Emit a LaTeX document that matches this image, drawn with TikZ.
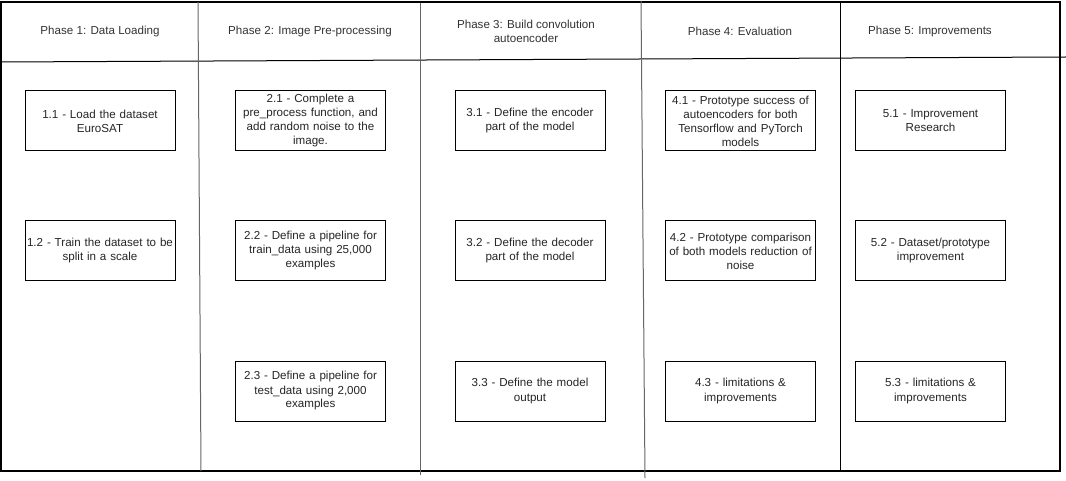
\documentclass[tikz,border=0pt]{standalone}
\usepackage{fontspec}
\setmainfont{Liberation Sans}
\begin{document}
\begin{tikzpicture}[x=1pt,y=-1pt,
  stepbox/.style={draw=black, line width=1pt, minimum width=150pt, minimum height=60pt,
     text width=148pt, align=center, inner sep=0pt, font=\fontsize{11.6}{14}\selectfont, text=black!85},
  phasehead/.style={align=center, font=\fontsize{11.6}{14}\selectfont, text=black!80},
  divider/.style={draw=black!60, line width=1pt},
  frame/.style={draw=black, line width=1.4pt}]
\useasboundingbox (0,0) rectangle (1066,481);
\fill[white] (0,0) rectangle (1066,481);
% frame
\draw[frame] (1,2) rectangle (1060,471);
% header line
\draw[draw=black, line width=1pt] (1,62) -- (1066,57);
% dividers
\draw[divider] (198,2) -- (201,471);
\draw[divider] (420,3) -- (420,475);
\draw[divider] (641,1) -- (645,478);
\draw[draw=black, line width=1pt] (840,2) -- (840,471);
% headers
\node[phasehead] (h1) at (100,31.5) {Phase 1: Data Loading};
\node[phasehead] (h2) at (310,31.5) {Phase 2: Image Pre-processing};
\node[phasehead] (h3) at (526,31.5) {Phase 3: Build convolution\\autoencoder};
\node[phasehead] (h4) at (740,31.5) {Phase 4: Evaluation};
\node[phasehead] (h5) at (930,31.5) {Phase 5: Improvements};
% row 1
\node[stepbox] (s11) at (100,121) {1.1 - Load the dataset\\EuroSAT};
\node[stepbox] (s21) at (310.5,121) {2.1 - Complete a\\pre\_process function, and\\add random noise to the\\image.};
\node[stepbox] (s31) at (530,121) {3.1 - Define the encoder\\part of the model};
\node[stepbox] (s41) at (740.5,121) {4.1 - Prototype success of\\autoencoders for both\\Tensorflow and PyTorch\\models};
\node[stepbox] (s51) at (930.5,121) {5.1 - Improvement\\Research};
% row 2
\node[stepbox] (s12) at (100,251) {1.2 - Train the dataset to be\\split in a scale};
\node[stepbox] (s22) at (310.5,251) {2.2 - Define a pipeline for\\train\_data using 25,000\\examples};
\node[stepbox] (s32) at (530,251) {3.2 - Define the decoder\\part of the model};
\node[stepbox] (s42) at (740.5,251) {4.2 - Prototype comparison\\of both models reduction of\\noise};
\node[stepbox] (s52) at (930.5,251) {5.2 - Dataset/prototype\\improvement};
% row 3
\node[stepbox] (s23) at (310.5,391) {2.3 - Define a pipeline for\\test\_data using 2,000\\examples};
\node[stepbox] (s33) at (530,391) {3.3 - Define the model\\output};
\node[stepbox] (s43) at (740.5,391) {4.3 - limitations \&\\improvements};
\node[stepbox] (s53) at (930.5,391) {5.3 - limitations \&\\improvements};
\end{tikzpicture}
\end{document}
